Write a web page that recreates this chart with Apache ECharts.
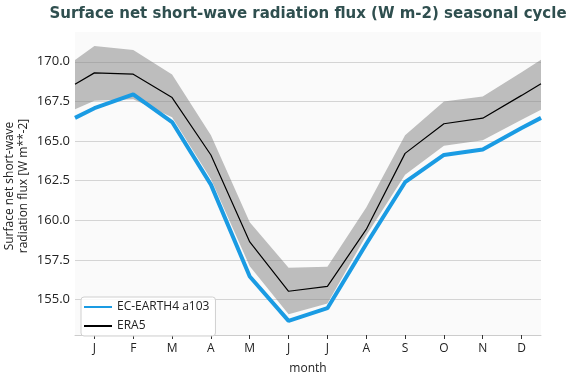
<!DOCTYPE html>
<html>
<head>
<meta charset="utf-8">
<script src="https://cdn.jsdelivr.net/npm/echarts@6/dist/echarts.min.js"></script>
<style>html,body{margin:0;padding:0;background:#fff}#c{width:566px;height:380px}</style>
</head>
<body>
<div id="c"></div>
<script>
// month positions (edge points wrap to the plot border)
const monthLabels = ['J','F','M','A','M','J','J','A','S','O','N','D'];
const xPos = [0.5,1,2,3,4,5,6,7,8,9,10,11,12,12.5];
const ecEarth = [166.46,167.07,167.95,166.2,162.25,156.45,153.65,154.45,158.5,162.4,164.12,164.47,165.82,166.46];
const era5    = [168.58,169.3,169.22,167.74,164.12,158.63,155.52,155.83,159.42,164.22,166.09,166.44,167.88,168.62];
const eraHigh = [170.12,171.0,170.75,169.2,165.36,159.87,157.0,157.07,160.8,165.36,167.5,167.81,169.34,170.13];
const eraLow  = [167.0,167.54,167.64,166.5,162.6,157.1,154.07,154.75,159.04,162.87,164.7,165.05,166.34,166.98];
const yTicks = [155,157.5,160,162.5,165,167.5,170];

const pts = a => a.map((v,i)=>[xPos[i], v]);
const bandData = xPos.map((x,i)=>[x, eraLow[i], eraHigh[i]]);

const chart = echarts.init(document.getElementById('c'), null, {renderer:'canvas'});
const FONT = '"Open Sans", "DejaVu Sans", sans-serif';
chart.setOption({
  animation:false,
  backgroundColor:'#ffffff',
  title:{
    text:'Surface net short-wave radiation flux (W m-2) seasonal cycle',
    left:303, textAlign:'center', top:2,
    textStyle:{fontFamily:'"DejaVu Sans", sans-serif', fontWeight:'bold', fontSize:15, color:'#2f4f4f'}
  },
  grid:{left:75, right:25, top:32, bottom:41, show:true, backgroundColor:'#fafafa', borderWidth:0},
  legend:{
    data:['EC-EARTH4 a103','ERA5'],
    orient:'vertical', left:81, top:297,
    itemWidth:28, itemHeight:10, itemGap:7,
    padding:[4,6,4,2],
    itemStyle:{opacity:0},
    backgroundColor:'rgba(255,255,255,0.85)',
    borderColor:'#d0d0d0', borderWidth:1, borderRadius:3,
    textStyle:{fontFamily:FONT, fontSize:12, color:'#222'}
  },
  xAxis:[{
    type:'category', data:monthLabels, boundaryGap:true,
    name:'month', nameLocation:'middle', nameGap:28,
    nameTextStyle:{fontFamily:FONT, fontSize:12, color:'#222'},
    axisLine:{show:true, lineStyle:{color:'#cccccc', width:1}},
    axisTick:{show:true, alignWithLabel:true, length:4, lineStyle:{color:'#333'}},
    axisLabel:{fontFamily:FONT, fontSize:12, color:'#222', margin:8},
    splitLine:{show:false}
  },{
    type:'value', min:0.5, max:12.5, show:false
  }],
  yAxis:{
    type:'value', min:152.76, max:171.88,
    axisLine:{show:false}, axisTick:{show:false, customValues:yTicks},
    axisLabel:{customValues:yTicks, formatter:v=>v.toFixed(1), fontFamily:FONT, fontSize:13, color:'#222', margin:5},
    splitLine:{show:true, lineStyle:{color:'#d4d4d4', width:1}}
  },
  graphic:[{
    type:'text', x:17, y:186, rotation:Math.PI/2,
    style:{text:'Surface net short-wave\nradiation flux [W m**-2]', fontFamily:FONT, fontSize:12, lineHeight:14,
      fill:'#222', textAlign:'center', textVerticalAlign:'middle'}
  }],
  series:[
    {name:'band', type:'custom', xAxisIndex:1, data:bandData, silent:true, z:1,
     encode:{x:0, y:[1,2]},
     renderItem:function(params, api){
       if (params.dataIndex !== 0) return;
       const upper = bandData.map(d=>api.coord([d[0], d[2]]));
       const lower = bandData.map(d=>api.coord([d[0], d[1]])).reverse();
       return {type:'polygon', shape:{points:upper.concat(lower)},
               style:{fill:'rgba(128,128,128,0.5)', stroke:'none'}};
     }},
    {name:'EC-EARTH4 a103', type:'line', xAxisIndex:1, data:pts(ecEarth), symbol:'none',
     lineStyle:{color:'#1a9be3', width:4}, itemStyle:{color:'#1a9be3'}, z:5},
    {name:'ERA5', type:'line', xAxisIndex:1, data:pts(era5), symbol:'none',
     lineStyle:{color:'#000', width:1.2}, itemStyle:{color:'#000'}, z:6}
  ]
});
</script>
</body>
</html>
